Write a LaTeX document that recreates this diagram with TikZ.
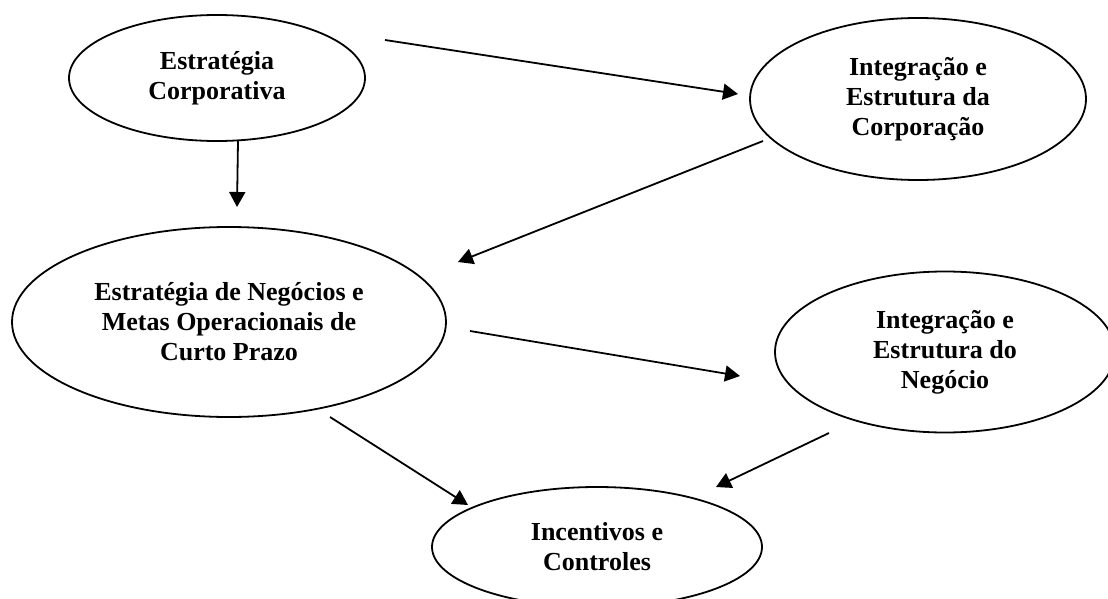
\documentclass[tikz,border=0pt]{standalone}
\usepackage{fontspec}
\setmainfont{Liberation Serif}
\usetikzlibrary{shapes.geometric,arrows.meta}
\begin{document}
\begin{tikzpicture}[x=1pt,y=-1pt,
  oval/.style={draw,ellipse,line width=1.8pt,inner sep=0pt,align=center,
    font=\fontsize{26}{30}\selectfont\bfseries},
  flow/.style={line width=1.8pt,-{Triangle[length=15pt,width=16pt]}}]
\useasboundingbox (0,0) rectangle (1108,599);
\clip (0,0) rectangle (1108,599);
\fill[white] (0,0) rectangle (1108,599);

% goal hierarchy
\node[oval,minimum width=296pt,minimum height=126pt] (corp) at (217,78)
  {Estratégia\\Corporativa};
\node[oval,minimum width=336pt,minimum height=162pt] (intcorp) at (918,99)
  {Integração e\\Estrutura da\\Corporação};
\node[oval,minimum width=434pt,minimum height=190pt] (neg) at (229,322)
  {Estratégia de Negócios e\\Metas Operacionais de\\Curto Prazo};
\node[oval,minimum width=340pt,minimum height=161pt] (intneg) at (945,352)
  {Integração e\\Estrutura do\\Negócio};
\node[oval,minimum width=330pt,minimum height=120pt] (inc) at (597,547)
  {Incentivos e\\Controles};

% arrow end points, placed around each oval
\coordinate (a1) at ([shift={(168,-38)}]corp.center);
\coordinate (a2) at ([shift={(-180,-5)}]intcorp.center);
\coordinate (b1) at ([shift={(21,63)}]corp.center);
\coordinate (b2) at ([shift={(8,-115)}]neg.center);
\coordinate (c1) at ([shift={(-155,42)}]intcorp.center);
\coordinate (c2) at ([shift={(229,-60)}]neg.center);
\coordinate (d1) at ([shift={(241,9)}]neg.center);
\coordinate (d2) at ([shift={(-205,24)}]intneg.center);
\coordinate (e1) at ([shift={(101,95)}]neg.center);
\coordinate (e2) at ([shift={(-129,-42)}]inc.center);
\coordinate (f1) at ([shift={(-116,81)}]intneg.center);
\coordinate (f2) at ([shift={(119,-60)}]inc.center);

\draw[flow] (a1) -- (a2);
\draw[flow] (b1) -- (b2);
\draw[flow] (c1) -- (c2);
\draw[flow] (d1) -- (d2);
\draw[flow] (e1) -- (e2);
\draw[flow] (f1) -- (f2);
\end{tikzpicture}
\end{document}
